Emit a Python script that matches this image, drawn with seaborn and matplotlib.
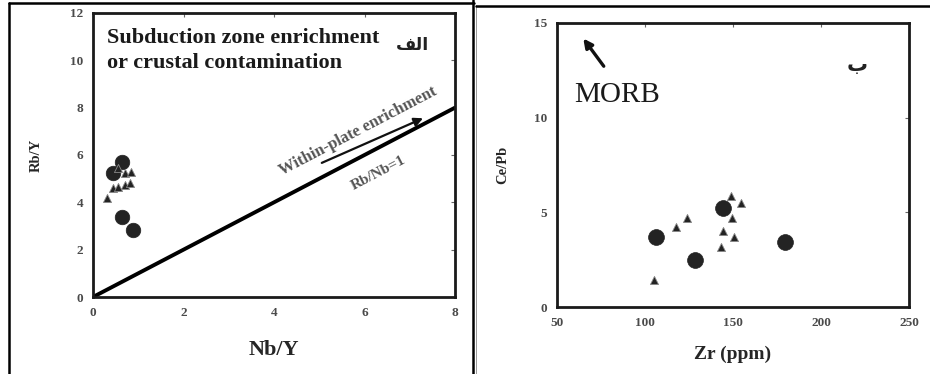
import numpy as np
import pandas as pd
import seaborn as sns
import matplotlib.pyplot as plt
from matplotlib.lines import Line2D

# panel a: Rb/Y vs Nb/Y
nby_circles = [0.44, 0.64, 0.64, 0.89]
rby_circles = [5.24, 5.70, 3.40, 2.83]
nby_triangles = [0.30, 0.45, 0.55, 0.70, 0.82, 0.70, 0.85, 0.55]
rby_triangles = [4.20, 4.60, 4.65, 4.75, 4.80, 5.25, 5.30, 5.45]

# panel b: Ce/Pb vs Zr
zr_circles = [106.5, 128.2, 144.6, 179.7]
cepb_circles = [3.71, 2.48, 5.21, 3.45]
zr_triangles = [105.1, 117.8, 124.0, 149.0, 154.6, 149.5, 144.6, 150.3, 143.3]
cepb_triangles = [1.43, 4.24, 4.69, 5.86, 5.51, 4.69, 4.03, 3.68, 3.19]

left_xticks = [0, 2, 4, 6, 8]
left_yticks = [0, 2, 4, 6, 8, 10, 12]
right_xticks = [50, 100, 150, 200, 250]
right_yticks = [0, 5, 10, 15]

sns.set_theme(style="white")
plt.rcParams['font.family'] = ['Liberation Serif', 'DejaVu Sans']

mark = "#232323"
tick_col = "#4a4a4a"

fig = plt.figure(figsize=(9.3, 3.74), dpi=100)
ax1 = fig.add_axes([93 / 930, 1 - 297 / 374, 362 / 930, 284 / 374])
ax2 = fig.add_axes([557 / 930, 1 - 307 / 374, 352 / 930, 284 / 374])

df_a = pd.DataFrame({
    "x": nby_circles + nby_triangles,
    "y": rby_circles + rby_triangles,
    "kind": ["c"] * len(nby_circles) + ["t"] * len(nby_triangles),
})
df_b = pd.DataFrame({
    "x": zr_circles + zr_triangles,
    "y": cepb_circles + cepb_triangles,
    "kind": ["c"] * len(zr_circles) + ["t"] * len(zr_triangles),
})

for ax, df, cs, ts in [(ax1, df_a, 110, 34), (ax2, df_b, 130, 34)]:
    sns.scatterplot(data=df[df.kind == "c"], x="x", y="y", ax=ax, s=cs,
                    marker="o", color=mark, edgecolor=mark, linewidth=0.5, legend=False)
    sns.scatterplot(data=df[df.kind == "t"], x="x", y="y", ax=ax, s=ts,
                    marker="^", color=mark, edgecolor="#888888", linewidth=0.6, legend=False)

# Rb/Nb = 1 reference line
sns.lineplot(x=[0, 8], y=[0, 8], ax=ax1, color="black", linewidth=2.8)

ax1.set_xlim(0, 8)
ax1.set_ylim(0, 12)
ax1.set_xticks(left_xticks)
ax1.set_yticks(left_yticks)
ax2.set_xlim(50, 250)
ax2.set_ylim(0, 15)
ax2.set_xticks(right_xticks)
ax2.set_yticks(right_yticks)

for ax in (ax1, ax2):
    for sp in ax.spines.values():
        sp.set_linewidth(2.0)
        sp.set_color("#1a1a1a")
    ax.tick_params(direction="in", length=3, width=0.8, top=True, right=True,
                   labelsize=9.5, labelcolor=tick_col, color="#666666", pad=7)
    for lab in ax.get_xticklabels() + ax.get_yticklabels():
        lab.set_fontweight("bold")

ax1.set_xlabel("Nb/Y", fontsize=16, fontweight="bold", labelpad=15)
ax1.set_ylabel("Rb/Y", fontsize=10.5, fontweight="bold", labelpad=20)
ax2.set_xlabel("Zr (ppm)", fontsize=14, fontweight="bold", labelpad=12)
ax2.set_ylabel("Ce/Pb", fontsize=10.5, fontweight="bold", labelpad=18)

ax1.text(0.3, 11.35, "Subduction zone enrichment\nor crustal contamination",
         fontsize=16, fontweight="bold", va="top", ha="left", linespacing=1.3,
         color="#1a1a1a")
ax1.text(7.05, 10.65, "\uFED2\uFEDF\u0627", fontsize=12.5, fontweight="bold",
         family=["DejaVu Sans"], ha="center", va="center", color="#222222")
ax1.text(5.85, 7.0, "Within-plate enrichment", fontsize=12, fontweight="bold",
         rotation=27.6, rotation_mode="anchor", ha="center", va="center", color="#555555")
ax1.text(6.3, 5.25, "Rb/Nb=1", fontsize=11, fontweight="bold",
         rotation=27.6, rotation_mode="anchor", ha="center", va="center", color="#555555")
ax1.annotate("", xy=(7.35, 7.6), xytext=(5.0, 5.62),
             arrowprops=dict(arrowstyle="-|>", color="#111111", lw=1.6,
                             mutation_scale=13))

ax2.text(84, 11.2, "MORB", fontsize=21, ha="center", va="center", color="#1a1a1a")
ax2.annotate("", xy=(64, 14.3), xytext=(77.5, 12.6),
             arrowprops=dict(arrowstyle="-|>", color="#111111", lw=2.4,
                             mutation_scale=13))
ax2.text(220.5, 12.8, "\u0628", fontsize=15, fontweight="bold",
         family=["DejaVu Sans"], ha="center", va="center", color="#222222")

# panel frames
def fline(xs, ys, lw=1.8, color="black"):
    fig.add_artist(Line2D([x / 930 for x in xs], [1 - y / 374 for y in ys],
                          color=color, linewidth=lw))

fline([9, 9], [3, 374])
fline([9, 474], [3, 3])
fline([473, 473], [0, 374])
fline([475.5, 475.5], [5, 374], lw=0.6, color="#888888")
fline([476, 930], [5.5, 5.5])

fig.savefig("out.png", dpi=100)
